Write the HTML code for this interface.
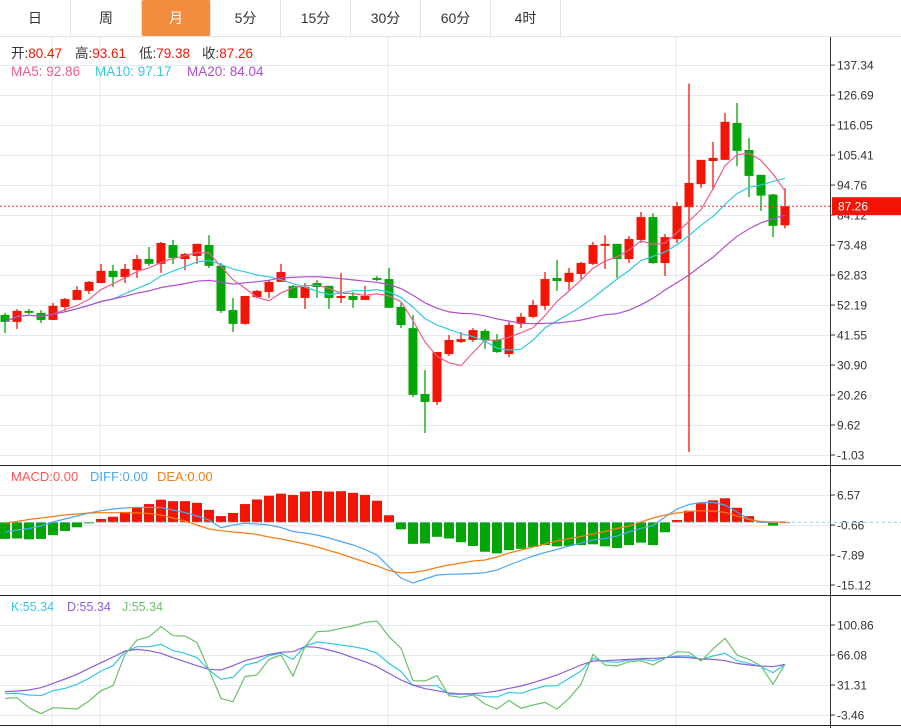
<!DOCTYPE html>
<html><head><meta charset="utf-8">
<style>
html,body{margin:0;padding:0;background:#fff;}
body{width:901px;height:728px;overflow:hidden;position:relative;font-family:"Liberation Sans","Noto Sans CJK SC",sans-serif;}
.tabs{position:absolute;left:0;top:0;width:901px;height:36px;border-bottom:1px solid #dde3ea;}
.tab{position:absolute;top:0;height:36px;line-height:36px;text-align:center;font-size:14px;color:#333;border-right:1px solid #dde3ea;box-sizing:border-box;cursor:pointer;}
.tab.on{background:#f28c3f;color:#fff;border-radius:2px;}
svg{position:absolute;left:0;top:0;}
</style></head><body>
<div class="tabs">
<div class="tab" style="left:0;width:71px">日</div>
<div class="tab" style="left:71px;width:71px">周</div>
<div class="tab on" style="left:142px;width:69px">月</div>
<div class="tab" style="left:211px;width:70px">5分</div>
<div class="tab" style="left:281px;width:70px">15分</div>
<div class="tab" style="left:351px;width:70px">30分</div>
<div class="tab" style="left:421px;width:70px">60分</div>
<div class="tab" style="left:491px;width:70px">4时</div>
</div>
<svg id="chart" width="901" height="728" xmlns="http://www.w3.org/2000/svg"></svg>
<script>
const opens=[48.7,46.2,50.1,49.4,46.9,51.5,54.0,57.2,60.0,64.3,62.1,64.6,68.5,66.8,73.5,68.5,69.6,73.5,66.1,50.4,45.5,55.0,56.8,60.4,58.9,54.7,60.0,59.0,54.7,55.4,54.0,61.8,61.4,51.5,44.0,20.6,17.8,34.8,39.1,39.8,43.0,39.8,34.8,45.5,48.0,51.9,61.8,60.4,63.2,66.8,73.2,73.9,68.5,75.3,83.4,67.1,75.6,86.9,95.1,103.3,103.7,116.8,107.2,98.4,91.4,80.47];
const highs=[49.4,50.8,50.8,50.4,52.9,54.7,58.9,60.7,66.8,66.4,66.8,70.0,72.8,74.6,75.3,70.7,73.9,77.0,67.1,54.7,55.4,57.5,61.1,66.8,59.3,60.0,61.1,59.0,63.6,56.8,59.0,62.5,65.4,52.9,48.7,29.1,35.5,41.6,42.6,44.0,43.7,41.9,46.2,49.4,54.0,63.9,68.2,65.3,67.5,74.6,77.0,73.9,76.7,85.2,84.8,77.4,88.8,130.8,103.7,110.1,120.3,123.9,111.5,98.4,91.6,93.61];
const lows=[42.3,43.7,49.0,45.8,46.9,49.7,54.0,56.1,60.0,58.6,60.0,61.8,66.1,63.6,66.8,64.6,66.8,65.3,49.4,42.6,45.2,55.0,54.7,60.4,54.7,50.8,54.7,50.8,52.9,51.2,54.0,60.7,51.2,44.0,19.6,6.8,16.7,34.1,38.7,39.1,36.6,35.2,33.7,44.0,47.6,50.4,57.2,57.5,61.4,66.4,65.0,61.8,67.1,74.2,66.8,62.5,74.2,0.0,93.7,93.0,103.7,101.5,90.5,85.6,76.3,79.38];
const closes=[46.2,50.1,49.4,46.9,51.9,54.3,57.5,60.4,64.3,62.1,65.0,68.5,66.8,74.2,68.9,70.3,73.9,66.1,50.1,45.5,55.4,57.2,60.4,63.9,54.7,58.6,58.6,54.7,55.4,54.0,55.4,61.1,51.2,45.1,20.3,17.8,35.5,39.8,40.1,43.3,39.8,35.5,45.1,48.0,52.2,61.4,60.7,63.6,67.1,73.5,73.9,68.5,75.6,83.4,67.1,76.3,87.3,95.5,103.7,104.4,117.2,106.9,98.0,91.0,80.3,87.26];
const priceTicks=["137.34","126.69","116.05","105.41","94.76","84.12","73.48","62.83","52.19","41.55","30.90","20.26","9.62","-1.03"];
const macdBars=[-4.0,-3.9,-4.1,-4.0,-3.1,-2.1,-1.2,-0.25,0.8,1.35,2.5,3.6,4.4,5.45,5.1,5.1,4.7,3.0,1.5,2.25,4.4,5.5,6.4,6.9,6.6,7.4,7.55,7.4,7.5,7.1,6.6,5.2,1.7,-1.7,-5.2,-5.1,-3.5,-3.9,-4.8,-5.7,-7.1,-7.5,-6.7,-6.4,-5.95,-5.5,-5.8,-5.7,-5.5,-5.3,-5.8,-6.2,-5.5,-4.9,-5.5,-2.4,0.55,2.8,4.6,5.3,5.8,3.5,1.5,0.1,-0.8,0.0];
const diffVals=[-2.34,-1.86,-1.49,-0.89,0.07,0.80,1.52,2.24,2.80,3.21,3.45,3.62,3.57,3.52,2.96,2.36,1.52,0.55,-1.30,-0.65,-0.24,-0.41,-0.65,-1.25,-2.22,-2.58,-3.06,-3.78,-4.63,-5.47,-6.56,-7.88,-10.78,-13.43,-14.64,-13.67,-12.70,-12.53,-12.46,-12.34,-12.15,-11.50,-10.29,-9.21,-8.13,-7.28,-6.56,-5.71,-4.99,-4.27,-3.90,-3.30,-2.34,-1.45,-0.82,1.28,3.21,4.29,4.77,4.77,4.17,2.48,0.80,0.0,-0.05,0.07];
const deaVals=[-0.17,0.19,0.67,1.04,1.40,1.76,2.00,2.24,2.31,2.31,2.31,2.27,2.12,1.76,1.04,0.31,-0.65,-1.61,-2.02,-2.34,-2.58,-2.94,-3.54,-4.03,-4.63,-5.23,-5.95,-6.80,-7.64,-8.60,-9.57,-10.53,-11.61,-12.22,-12.10,-11.62,-10.90,-10.29,-9.81,-9.33,-9.09,-8.36,-7.40,-6.68,-5.95,-5.23,-4.51,-3.90,-3.42,-2.82,-2.22,-1.49,-0.89,0.07,1.04,1.76,2.24,2.60,2.80,2.72,2.41,1.52,0.67,0.19,0.07,0.07];
const macdTicks=["6.57","-0.66","-7.89","-15.12"];
const kVals=[21.3,21.7,19.7,18.9,24.7,27.4,32.1,39.0,47.5,53.7,69.9,75.7,75.7,78.4,71.1,68.0,63.0,48.7,37.9,40.2,54.5,57.6,65.3,68.0,61.0,76.5,81.1,79.6,77.7,75.7,73.0,68.0,56.4,46.8,30.5,30.5,30.5,20.9,20.5,20.5,17.8,17.4,22.8,21.7,26.3,30.1,30.5,39.0,47.5,62.2,58.3,57.6,60.3,61.0,59.5,63.0,64.9,64.9,61.0,64.9,68.0,59.5,56.4,52.5,45.6,55.3];
const dVals=[23.6,24.3,25.5,28.2,33.2,38.3,43.7,50.6,57.2,63.7,70.7,72.6,71.1,68.0,63.0,58.3,53.7,49.5,48.7,53.7,59.5,63.0,66.8,69.2,69.9,75.7,75.0,71.9,68.0,63.0,58.3,52.5,44.8,37.1,31.3,27.0,24.7,22.0,20.9,21.3,22.4,24.3,27.4,30.1,34.0,38.3,42.9,48.7,54.5,59.1,59.5,60.3,61.0,61.8,62.2,63.0,63.7,63.0,61.4,61.0,59.5,56.4,54.5,53.3,52.5,55.3];
const jVals=[15.8,16.6,5.0,-1.9,5.0,4.3,3.5,12.8,24.7,30.5,66.8,83.4,87.3,98.9,88.5,88.1,80.4,48.7,15.8,12.0,41.0,42.9,61.0,66.1,41.7,75.7,93.1,93.9,97.0,99.7,103.9,105.5,87.3,73.8,36.3,35.9,42.1,18.9,17.0,19.7,9.3,3.5,13.5,4.3,8.1,11.2,3.5,15.8,32.1,66.8,54.5,53.3,58.3,59.5,54.5,62.2,69.9,69.2,59.1,73.0,85.4,66.1,61.0,53.3,32.1,55.3];
const kdjTicks=["100.86","66.08","31.31","-3.46"];

const svg=document.getElementById('chart');
const NS='http://www.w3.org/2000/svg';
function mk(tag,attrs,parent){const e=document.createElementNS(NS,tag);for(const k in attrs)e.setAttribute(k,attrs[k]);(parent||svg).appendChild(e);return e;}
const xOf=i=>5+12*i;
const yP=v=>455-(v+1.03)*30/10.6457;
const yM=v=>522.3-v*30/7.23;
const yK=v=>715-(v+3.46)*30/34.77;
const UP='#f21505',DN='#04a507';

const grid=mk('g',{});


[52,100,388,676].forEach(x=>mk('line',{x1:x,x2:x,y1:37,y2:725,stroke:'#e2ebf1','stroke-width':1},grid));
priceTicks.forEach(t=>{const y=Math.round(yP(parseFloat(t)))+0.5;mk('line',{x1:0,x2:830,y1:y,y2:y,stroke:'#e2ebf1'},grid);});
macdTicks.forEach(t=>{const y=Math.round(yM(parseFloat(t)))+0.5;mk('line',{x1:0,x2:830,y1:y,y2:y,stroke:'#e2ebf1'},grid);});
kdjTicks.forEach(t=>{const y=Math.round(yK(parseFloat(t)))+0.5;mk('line',{x1:0,x2:830,y1:y,y2:y,stroke:'#e2ebf1'},grid);});

mk('line',{x1:0,x2:901,y1:465.5,y2:465.5,stroke:'#222'});
mk('line',{x1:0,x2:901,y1:595.5,y2:595.5,stroke:'#222'});
mk('line',{x1:0,x2:901,y1:725.5,y2:725.5,stroke:'#222'});
const ax=mk('line',{x1:830.5,x2:830.5,y1:37,y2:728,stroke:'#333'});


function axisLabels(ticks,yf,name){
  const g=mk('g',{});
  
  
  ticks.forEach(t=>{const y=yf(parseFloat(t));
    mk('line',{x1:830,x2:835,y1:y,y2:y,stroke:'#333'},g);
    const tx=mk('text',{x:837,y:y+4.5,'font-size':12,fill:'#333'},g);tx.textContent=t;});
}
axisLabels(priceTicks,yP,'price-axis-labels');
axisLabels(macdTicks,yM,'macd-axis-labels');
axisLabels(kdjTicks,yK,'kdj-axis-labels');

const cg=mk('g',{});


closes.forEach((c,i)=>{
  const o=opens[i],up=c>=o,col=up?UP:DN,x=xOf(i);
  const w=mk('line',{x1:x,x2:x,y1:yP(highs[i]),y2:yP(lows[i]),stroke:col,'stroke-width':1.3},cg);
  
  
  const top=yP(Math.max(o,c)),bot=yP(Math.min(o,c));
  const r=mk('rect',{x:x-4.5,y:top,width:9,height:Math.max(1.5,bot-top),fill:col},cg);
  
  
});
function ma(n){return closes.map((c,i)=>{const s=closes.slice(Math.max(0,i-n+1),i+1);return s.reduce((a,b)=>a+b,0)/s.length;});}
function poly(vals,yf,color,name,w){
  const p=vals.map((v,i)=>xOf(i)+','+yf(v).toFixed(1)).join(' ');
  const e=mk('polyline',{points:p,fill:'none',stroke:color,'stroke-width':w||1.2});
  
  
}
poly(ma(5),yP,'#ec5d8c','ma5-line');
poly(ma(10),yP,'#35c7e0','ma10-line');
poly(ma(20),yP,'#b04fcb','ma20-line');
const lp=yP(closes[closes.length-1]);
const ll=mk('line',{x1:0,x2:830,y1:lp,y2:lp,stroke:'#f33','stroke-dasharray':'2,2'});


const lb=mk('rect',{x:832,y:lp-9,width:69,height:18,fill:UP});


const lt=mk('text',{x:838,y:lp+4.5,'font-size':12,fill:'#fff'});lt.textContent=closes[closes.length-1].toFixed(2);

const mg=mk('g',{});


const z=yM(0);
mk('line',{x1:0,x2:901,y1:z,y2:z,stroke:'#9cc9e0','stroke-dasharray':'3,3'});
macdBars.forEach((v,i)=>{const y=yM(v);
  const b=mk('rect',{x:xOf(i)-5,y:Math.min(y,z),width:10,height:Math.max(0.8,Math.abs(y-z)),fill:v>=0?UP:DN},mg);
  
  
});
poly(diffVals,yM,'#4ea7f0','diff-line');
poly(deaVals,yM,'#f57f17','dea-line');
poly(kVals,yK,'#35c7e0','k-line');
poly(dVals,yK,'#8e5fd6','d-line');
poly(jVals,yK,'#6cc06a','j-line');

function leg(y,size,parts,name){
  const t=mk('text',{y:y,'font-size':size});
  
  
  parts.forEach(([s,c,x])=>{const a={fill:c};if(x!=null)a.x=x;const sp=mk('tspan',a,t);sp.textContent=s;});
}
leg(58,13.5,[['开:','#333',11],['80.47','#f21505'],['高:','#333',75],['93.61','#f21505'],['低:','#333',139],['79.38','#f21505'],['收:','#333',202],['87.26','#f21505']],'ohlc-legend');
leg(76,13.5,[['MA5: 92.86','#ec5d8c',11],['MA10: 97.17','#35c7e0',95],['MA20: 84.04','#b04fcb',187]],'ma-legend');
leg(481,13,[['MACD:0.00','#f55',11],['DIFF:0.00','#4ea7f0',90],['DEA:0.00','#f57f17',157]],'macd-legend');
leg(611,12.5,[['K:55.34','#35c7e0',11],['D:55.34','#8e5fd6',67],['J:55.34','#6cc06a',122]],'kdj-legend');
</script>
</body></html>
